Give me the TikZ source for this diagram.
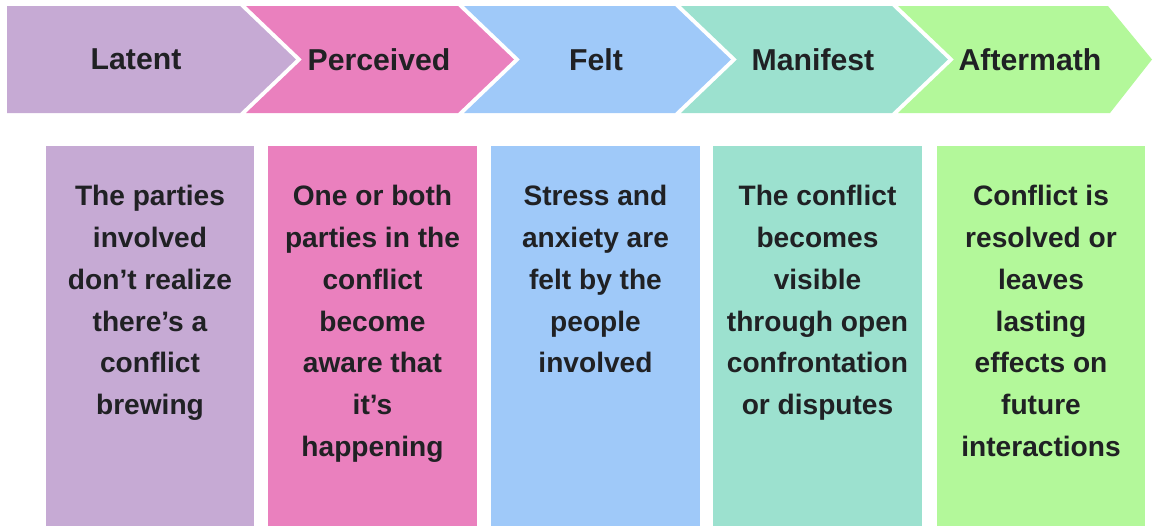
\documentclass[tikz,border=0pt]{standalone}
\usepackage{fontspec}
\setmainfont{Liberation Sans}
\usepackage{xcolor}

\definecolor{latentcol}{HTML}{C6AAD4}
\definecolor{perceivedcol}{HTML}{EA80BE}
\definecolor{feltcol}{HTML}{9FC9F9}
\definecolor{manifestcol}{HTML}{9CE1CF}
\definecolor{aftermathcol}{HTML}{B3F89A}
\definecolor{ink}{HTML}{202124}

\begin{document}
\begin{tikzpicture}[x=0.02cm, y=-0.02cm,
    stage/.style={font=\fontsize{17.2}{20}\selectfont\bfseries, text=ink},
    desc/.style={font=\fontsize{16}{23.8}\selectfont\bfseries, text=ink,
                 align=center, anchor=north, inner sep=0pt}]
  \useasboundingbox (0,0) rectangle (1153,525);

  % Stage arrows along the top
  \fill[latentcol] (7,6) -- (240,6) -- (296,59.5) -- (240,113) -- (7,113) -- cycle;
  \fill[perceivedcol] (246,6) -- (458,6) -- (514,59.5) -- (458,113) -- (246,113) -- (302,59.5) -- cycle;
  \fill[feltcol] (464,6) -- (675,6) -- (731,59.5) -- (675,113) -- (464,113) -- (520,59.5) -- cycle;
  \fill[manifestcol] (681,6) -- (892,6) -- (948,59.5) -- (892,113) -- (681,113) -- (737,59.5) -- cycle;
  \fill[aftermathcol] (898,6) -- (1108,6) -- (1152,59.5) -- (1110,113) -- (898,113) -- (954,59.5) -- cycle;

  % Stage names
  \node[stage] (latent) at (136,59.5) {Latent};
  \node[stage] (perceived) at (379,59.5) {Perceived};
  \node[stage] (felt) at (596,59.5) {Felt};
  \node[stage] (manifest) at (813,59.5) {Manifest};
  \node[stage] (aftermath) at (1030,59.5) {Aftermath};

  % Description columns
  \fill[latentcol] (46,146) rectangle (254,530);
  \fill[perceivedcol] (268,146) rectangle (477,530);
  \fill[feltcol] (491,146) rectangle (700,530);
  \fill[manifestcol] (713,146) rectangle (922,530);
  \fill[aftermathcol] (937,146) rectangle (1145,530);

  \node[desc] (latentinfo) at (150,185)
    {The parties\\involved\\don’t realize\\there’s a\\conflict\\brewing};
  \node[desc] (perceivedinfo) at (372.5,185)
    {One or both\\parties in the\\conflict\\become\\aware that\\it’s\\happening};
  \node[desc] (feltinfo) at (595.5,185)
    {Stress and\\anxiety are\\felt by the\\people\\involved};
  \node[desc] (manifestinfo) at (817.5,185)
    {The conflict\\becomes\\visible\\through open\\confrontation\\or disputes};
  \node[desc] (aftermathinfo) at (1041,185)
    {Conflict is\\resolved or\\leaves\\lasting\\effects on\\future\\interactions};
\end{tikzpicture}
\end{document}
